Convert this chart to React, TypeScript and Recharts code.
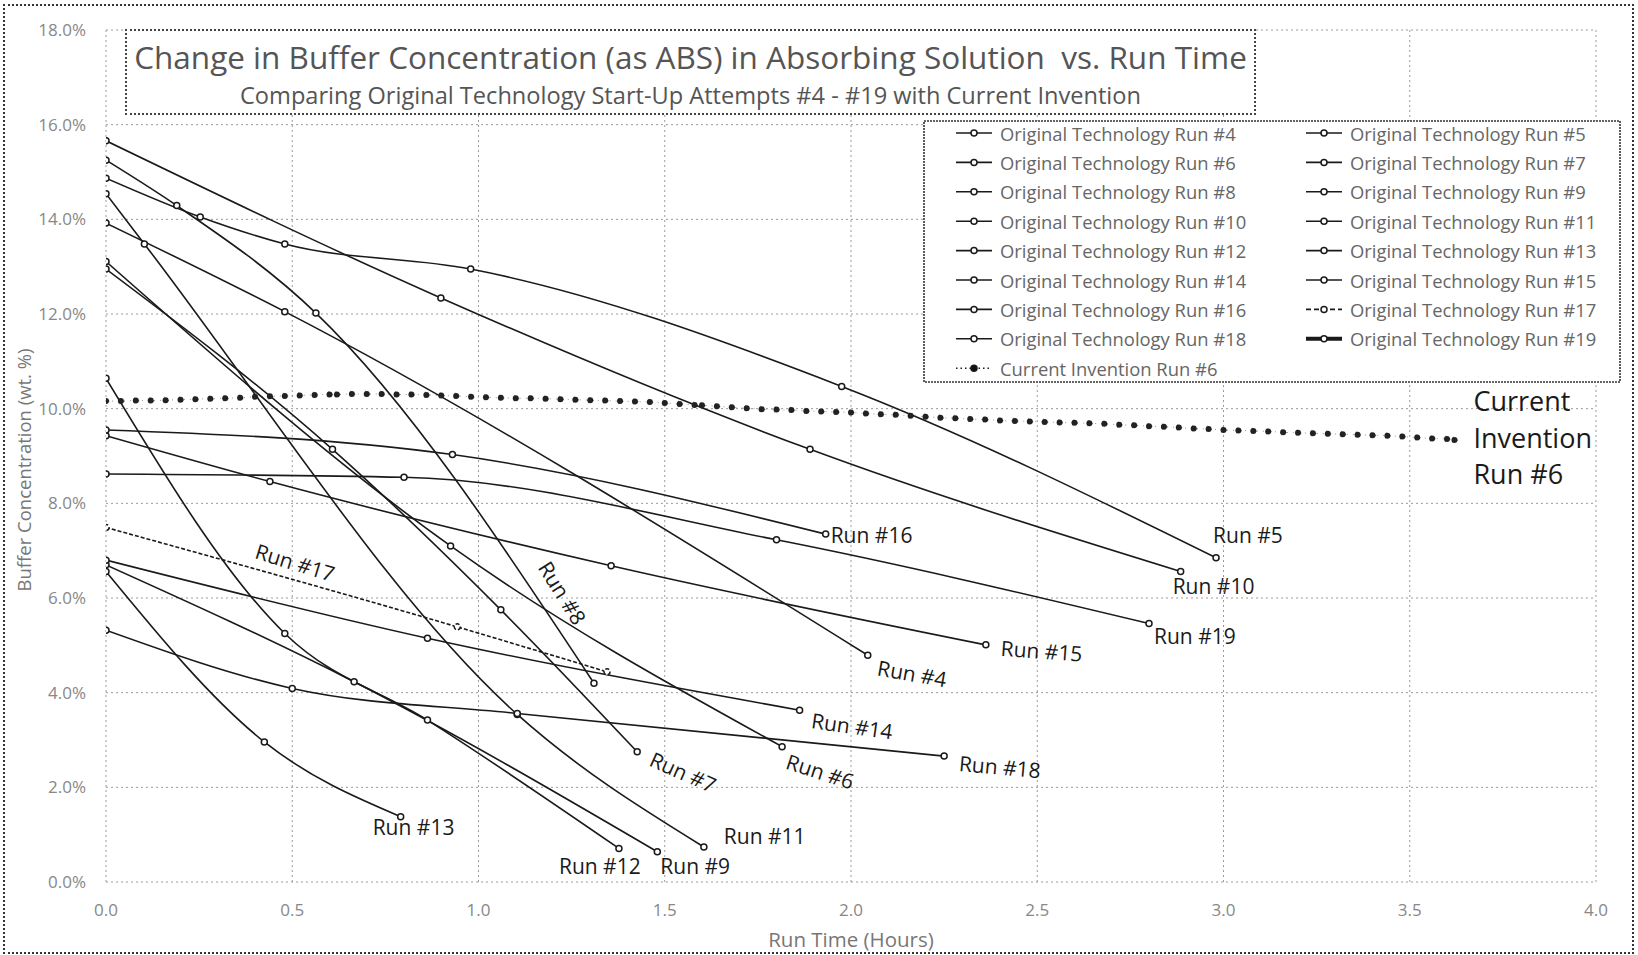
import React from "react";
import { LineChart, Line, XAxis, YAxis, CartesianGrid } from "recharts";

type Pt = { t: number; v: number };

// ---------------------------------------------------------------------------
// Data (hours, wt.%)
// ---------------------------------------------------------------------------

const run4: Pt[] = [
  { t: 0, v: 13.92 },
  { t: 0.48, v: 12.05 },
  { t: 2.045, v: 4.79 },
];
const run5: Pt[] = [
  { t: 0, v: 14.87 },
  { t: 0.253, v: 14.05 },
  { t: 0.48, v: 13.48 },
  { t: 0.979, v: 12.95 },
  { t: 1.975, v: 10.47 },
  { t: 2.98, v: 6.85 },
];
const run6: Pt[] = [
  { t: 0, v: 13.11 },
  { t: 0.925, v: 7.1 },
  { t: 1.815, v: 2.86 },
];
const run7: Pt[] = [
  { t: 0, v: 12.95 },
  { t: 0.608, v: 9.14 },
  { t: 1.06, v: 5.75 },
  { t: 1.426, v: 2.75 },
];
const run8: Pt[] = [
  { t: 0, v: 15.25 },
  { t: 0.19, v: 14.29 },
  { t: 0.5635, v: 12.02 },
  { t: 1.31, v: 4.2 },
];
const run9: Pt[] = [
  { t: 0, v: 6.7 },
  { t: 0.666, v: 4.23 },
  { t: 1.48, v: 0.64 },
];
const run10: Pt[] = [
  { t: 0, v: 15.66 },
  { t: 0.899, v: 12.34 },
  { t: 1.89, v: 9.14 },
  { t: 2.885, v: 6.56 },
];
const run11: Pt[] = [
  { t: 0, v: 14.54 },
  { t: 0.103, v: 13.48 },
  { t: 1.104, v: 3.54 },
  { t: 1.605, v: 0.74 },
];
const run12: Pt[] = [
  { t: 0, v: 10.64 },
  { t: 0.48, v: 5.25 },
  { t: 0.863, v: 3.42 },
  { t: 1.377, v: 0.71 },
];
const run13: Pt[] = [
  { t: 0, v: 6.56 },
  { t: 0.425, v: 2.96 },
  { t: 0.791, v: 1.38 },
];
const run14: Pt[] = [
  { t: 0, v: 6.8 },
  { t: 0.863, v: 5.15 },
  { t: 1.862, v: 3.63 },
];
const run15: Pt[] = [
  { t: 0, v: 9.43 },
  { t: 0.44, v: 8.46 },
  { t: 1.356, v: 6.68 },
  { t: 2.362, v: 5.01 },
];
const run16: Pt[] = [
  { t: 0, v: 9.55 },
  { t: 0.93, v: 9.03 },
  { t: 1.932, v: 7.35 },
];
const run17: Pt[] = [
  { t: 0, v: 7.49 },
  { t: 0.943, v: 5.39 },
  { t: 1.345, v: 4.44 },
];
const run18: Pt[] = [
  { t: 0, v: 5.32 },
  { t: 0.5, v: 4.09 },
  { t: 1.104, v: 3.56 },
  { t: 2.25, v: 2.66 },
];
const run19: Pt[] = [
  { t: 0, v: 8.62 },
  { t: 0.8, v: 8.55 },
  { t: 1.8, v: 7.23 },
  { t: 2.8, v: 5.46 },
];

const inventionRun6: Pt[] = [
  { t: 0, v: 10.16 }, { t: 0.04, v: 10.16 }, { t: 0.08, v: 10.17 }, { t: 0.12, v: 10.17 },
  { t: 0.16, v: 10.18 }, { t: 0.2, v: 10.19 }, { t: 0.24, v: 10.2 }, { t: 0.28, v: 10.21 },
  { t: 0.32, v: 10.22 }, { t: 0.36, v: 10.23 }, { t: 0.4, v: 10.25 }, { t: 0.44, v: 10.26 },
  { t: 0.48, v: 10.27 }, { t: 0.52, v: 10.28 }, { t: 0.56, v: 10.29 }, { t: 0.6, v: 10.3 },
  { t: 0.62, v: 10.3 }, { t: 0.66, v: 10.31 }, { t: 0.7, v: 10.31 }, { t: 0.74, v: 10.31 },
  { t: 0.78, v: 10.3 }, { t: 0.82, v: 10.3 }, { t: 0.86, v: 10.29 }, { t: 0.9, v: 10.28 },
  { t: 0.94, v: 10.27 }, { t: 0.98, v: 10.25 }, { t: 1.02, v: 10.24 }, { t: 1.06, v: 10.23 },
  { t: 1.1, v: 10.22 }, { t: 1.14, v: 10.22 }, { t: 1.18, v: 10.21 }, { t: 1.22, v: 10.2 },
  { t: 1.26, v: 10.19 }, { t: 1.3, v: 10.18 }, { t: 1.34, v: 10.17 }, { t: 1.38, v: 10.16 },
  { t: 1.42, v: 10.15 }, { t: 1.46, v: 10.14 }, { t: 1.5, v: 10.12 }, { t: 1.54, v: 10.1 },
  { t: 1.58, v: 10.08 }, { t: 1.6, v: 10.07 }, { t: 1.64, v: 10.05 }, { t: 1.68, v: 10.03 },
  { t: 1.72, v: 10.01 }, { t: 1.76, v: 9.99 }, { t: 1.8, v: 9.98 }, { t: 1.84, v: 9.97 },
  { t: 1.88, v: 9.95 }, { t: 1.92, v: 9.94 }, { t: 1.96, v: 9.93 }, { t: 2.0, v: 9.92 },
  { t: 2.04, v: 9.9 }, { t: 2.08, v: 9.88 }, { t: 2.12, v: 9.87 }, { t: 2.16, v: 9.85 },
  { t: 2.2, v: 9.83 }, { t: 2.24, v: 9.81 }, { t: 2.28, v: 9.8 }, { t: 2.32, v: 9.78 },
  { t: 2.36, v: 9.77 }, { t: 2.4, v: 9.75 }, { t: 2.44, v: 9.74 }, { t: 2.48, v: 9.73 },
  { t: 2.52, v: 9.72 }, { t: 2.56, v: 9.71 }, { t: 2.6, v: 9.7 }, { t: 2.64, v: 9.69 },
  { t: 2.68, v: 9.68 }, { t: 2.72, v: 9.66 }, { t: 2.76, v: 9.65 }, { t: 2.8, v: 9.63 },
  { t: 2.84, v: 9.62 }, { t: 2.88, v: 9.6 }, { t: 2.92, v: 9.58 }, { t: 2.96, v: 9.57 },
  { t: 3.0, v: 9.55 }, { t: 3.04, v: 9.54 }, { t: 3.08, v: 9.53 }, { t: 3.12, v: 9.52 },
  { t: 3.16, v: 9.5 }, { t: 3.2, v: 9.49 }, { t: 3.24, v: 9.48 }, { t: 3.28, v: 9.47 },
  { t: 3.32, v: 9.46 }, { t: 3.36, v: 9.45 }, { t: 3.4, v: 9.44 }, { t: 3.44, v: 9.43 },
  { t: 3.48, v: 9.41 }, { t: 3.52, v: 9.39 }, { t: 3.56, v: 9.37 }, { t: 3.6, v: 9.36 },
  { t: 3.62, v: 9.34 },
];

const xTicks = [0, 0.5, 1, 1.5, 2, 2.5, 3, 3.5, 4];
const yTicks = [0, 2, 4, 6, 8, 10, 12, 14, 16, 18];

const TITLE = "Change in Buffer Concentration (as ABS) in Absorbing Solution  vs. Run Time";
const SUBTITLE = "Comparing Original Technology Start-Up Attempts #4 - #19 with Current Invention";
const X_LABEL = "Run Time (Hours)";
const Y_LABEL = "Buffer Concentration (wt. %)";

// ---------------------------------------------------------------------------
// Series config (label placement relative to the anchored point)
// ---------------------------------------------------------------------------

interface LabelCfg {
  text: string;
  at: "first" | "last";
  dx: number;
  dy: number;
  angle?: number;
}

interface SeriesCfg {
  key: string;
  name: string;
  data: Pt[];
  dashed?: boolean;
  thick?: boolean;
  label: LabelCfg;
}

const SERIES: SeriesCfg[] = [
  { key: "r4", name: "Original Technology Run #4", data: run4, label: { text: "Run #4", at: "last", dx: 10, dy: 12, angle: 10 } },
  { key: "r5", name: "Original Technology Run #5", data: run5, label: { text: "Run #5", at: "last", dx: -3, dy: -23 } },
  { key: "r6", name: "Original Technology Run #6", data: run6, label: { text: "Run #6", at: "last", dx: 5, dy: 14, angle: 18 } },
  { key: "r7", name: "Original Technology Run #7", data: run7, label: { text: "Run #7", at: "last", dx: 14, dy: 6, angle: 24 } },
  { key: "r8", name: "Original Technology Run #8", data: run8, label: { text: "Run #8", at: "last", dx: -50, dy: -120, angle: 58 } },
  { key: "r9", name: "Original Technology Run #9", data: run9, label: { text: "Run #9", at: "last", dx: 3, dy: 14 } },
  { key: "r10", name: "Original Technology Run #10", data: run10, label: { text: "Run #10", at: "last", dx: -8, dy: 15 } },
  { key: "r11", name: "Original Technology Run #11", data: run11, label: { text: "Run #11", at: "last", dx: 20, dy: -11 } },
  { key: "r12", name: "Original Technology Run #12", data: run12, label: { text: "Run #12", at: "last", dx: -60, dy: 18 } },
  { key: "r13", name: "Original Technology Run #13", data: run13, label: { text: "Run #13", at: "last", dx: -28, dy: 10 } },
  { key: "r14", name: "Original Technology Run #14", data: run14, label: { text: "Run #14", at: "last", dx: 12, dy: 10, angle: 8 } },
  { key: "r15", name: "Original Technology Run #15", data: run15, label: { text: "Run #15", at: "last", dx: 15, dy: 3, angle: 4 } },
  { key: "r16", name: "Original Technology Run #16", data: run16, label: { text: "Run #16", at: "last", dx: 5, dy: 1 } },
  { key: "r17", name: "Original Technology Run #17", data: run17, dashed: true, label: { text: "Run #17", at: "first", dx: 150, dy: 23, angle: 17 } },
  { key: "r18", name: "Original Technology Run #18", data: run18, label: { text: "Run #18", at: "last", dx: 15, dy: 7, angle: 5 } },
  { key: "r19", name: "Original Technology Run #19", data: run19, thick: true, label: { text: "Run #19", at: "last", dx: 5, dy: 12 } },
];

const FONT = "'Open Sans', 'Noto Sans', sans-serif";
const INK = "#1a1a1a";

// ---------------------------------------------------------------------------
// Label renderers
// ---------------------------------------------------------------------------

const makeRunLabel = (cfg: LabelCfg, lastIndex: number) => (props: any) => {
  const idx = cfg.at === "first" ? 0 : lastIndex;
  if (props.index !== idx) return null;
  const vb = props.viewBox || {};
  const px = props.x ?? vb.x;
  const py = props.y ?? vb.y;
  if (px == null || py == null) return null;
  const lx = px + cfg.dx;
  const ly = py + cfg.dy;
  return (
    <text
      x={lx}
      y={ly}
      fontSize={21}
      fontFamily={FONT}
      fill={INK}
      dominantBaseline="central"
      transform={cfg.angle ? `rotate(${cfg.angle} ${lx} ${ly})` : undefined}
    >
      {cfg.text}
    </text>
  );
};

const inventionLabel = (props: any) => {
  if (props.index !== inventionRun6.length - 1) return null;
  const vb = props.viewBox || {};
  const px = (props.x ?? vb.x) + 19;
  const py = props.y ?? vb.y;
  return (
    <text x={px} y={py} fontSize={27} fontFamily={FONT} fill={INK} dominantBaseline="central">
      <tspan x={px} y={py - 40}>Current</tspan>
      <tspan x={px} y={py - 3}>Invention</tspan>
      <tspan x={px} y={py + 33}>Run #6</tspan>
    </text>
  );
};

const xAxisTitle = (props: any) => {
  const vb = props.viewBox || {};
  return (
    <text x={vb.x + vb.width / 2} y={vb.y + 57} textAnchor="middle" dominantBaseline="central" fontSize={20.5} fontFamily={FONT} fill="#777">
      {X_LABEL}
    </text>
  );
};

const yAxisTitle = (props: any) => {
  const vb = props.viewBox || {};
  const x = vb.x - 23;
  const y = vb.y + vb.height / 2 + 14;
  return (
    <text x={x} y={y} textAnchor="middle" dominantBaseline="central" fontSize={18.5} fontFamily={FONT} fill="#777" transform={`rotate(-90 ${x} ${y})`}>
      {Y_LABEL}
    </text>
  );
};

// ---------------------------------------------------------------------------
// Legend (box drawn over the plot like the original)
// ---------------------------------------------------------------------------

function LegendIcon({ x, y, dashed, thick, dotted }: { x: number; y: number; dashed?: boolean; thick?: boolean; dotted?: boolean }) {
  return (
    <g>
      <line
        x1={x}
        x2={x + 36}
        y1={y}
        y2={y}
        stroke={INK}
        strokeWidth={thick ? 4 : dotted ? 1.5 : 1.6}
        strokeDasharray={dashed ? "5 3" : dotted ? "1.5 3" : undefined}
      />
      <circle cx={x + 18} cy={y} r={3} fill={dotted ? "#111" : "#fff"} stroke={INK} strokeWidth={1.5} />
    </g>
  );
}

function ChartLegend() {
  const rowY = (i: number) => 13 + i * 29.4;
  const entries = SERIES.map((s, i) => ({ s, col: i % 2, row: Math.floor(i / 2) }));
  return (
    <svg width={698} height={263} style={{ position: "absolute", left: 923, top: 120 }}>
      <rect x={1} y={1} width={696} height={261} fill="#fff" stroke="#333" strokeWidth={1.6} strokeDasharray="2 1" />
      {entries.map(({ s, col, row }) => {
        const ix = col === 0 ? 33 : 383;
        const y = rowY(row);
        return (
          <g key={s.key}>
            <LegendIcon x={ix} y={y} dashed={s.dashed} thick={s.thick} />
            <text x={ix + 44} y={y} dominantBaseline="central" fontSize={18.4} fontFamily={FONT} fill="#666">
              {s.name}
            </text>
          </g>
        );
      })}
      <LegendIcon x={33} y={rowY(8)} dotted />
      <text x={77} y={rowY(8)} dominantBaseline="central" fontSize={18.4} fontFamily={FONT} fill="#666">
        Current Invention Run #6
      </text>
    </svg>
  );
}

// ---------------------------------------------------------------------------
// App
// ---------------------------------------------------------------------------

export default function App() {
  return (
    <div style={{ position: "absolute", left: 0, top: 0, width: 1638, height: 955, background: "#fff" }}>
      <LineChart width={1638} height={955} margin={{ top: 30, right: 42, left: 46, bottom: 23 }}>
        <CartesianGrid stroke="#9a9a9a" strokeDasharray="2 3" />
        <XAxis
          type="number"
          dataKey="t"
          domain={[0, 4]}
          ticks={xTicks}
          tickFormatter={(v: number) => v.toFixed(1)}
          axisLine={false}
          tickLine={false}
          tickSize={0}
          tickMargin={22}
          height={50}
          tick={{ fontSize: 17, fontFamily: FONT, fill: "#888" }}
          label={{ content: xAxisTitle }}
          allowDataOverflow
        />
        <YAxis
          type="number"
          dataKey="v"
          domain={[0, 18]}
          ticks={yTicks}
          tickFormatter={(v: number) => `${v.toFixed(1)}%`}
          axisLine={false}
          tickLine={false}
          tickSize={0}
          tickMargin={20}
          width={60}
          tick={{ fontSize: 17, fontFamily: FONT, fill: "#888" }}
          label={{ content: yAxisTitle }}
          allowDataOverflow
        />
        {SERIES.map((s) => (
          <Line
            key={s.key}
            data={s.data}
            dataKey="v"
            name={s.name}
            type="monotone"
            stroke={INK}
            strokeWidth={1.6}
            strokeDasharray={s.dashed ? "4 2" : undefined}
            dot={{ r: 3, fill: "#fff", stroke: INK, strokeWidth: 1.5 }}
            activeDot={false}
            isAnimationActive={false}
            label={makeRunLabel(s.label, s.data.length - 1)}
          />
        ))}
        <Line
          data={inventionRun6}
          dataKey="v"
          name="Current Invention Run #6"
          type="monotone"
          stroke="#333"
          strokeWidth={1}
          strokeOpacity={0.5}
          strokeDasharray="1 5"
          dot={{ r: 3, fill: "#222", stroke: "#111", strokeWidth: 1 }}
          activeDot={false}
          isAnimationActive={false}
          label={inventionLabel}
        />
      </LineChart>

      <div
        style={{
          position: "absolute",
          left: 125,
          top: 29,
          width: 1131,
          height: 86,
          boxSizing: "border-box",
          border: "2px dotted #444",
          background: "#fff",
          fontFamily: FONT,
          color: "#555",
          textAlign: "center",
          whiteSpace: "pre",
        }}
      >
        <div style={{ fontSize: 31.5, lineHeight: "38px", marginTop: 7 }}>{TITLE}</div>
        <div style={{ fontSize: 23.6, lineHeight: "26px", marginTop: 6 }}>{SUBTITLE}</div>
      </div>

      <ChartLegend />

      <div
        style={{
          position: "absolute",
          left: 3,
          top: 4,
          width: 1631,
          height: 950,
          boxSizing: "border-box",
          border: "2px dotted #333",
          pointerEvents: "none",
        }}
      />
    </div>
  );
}
